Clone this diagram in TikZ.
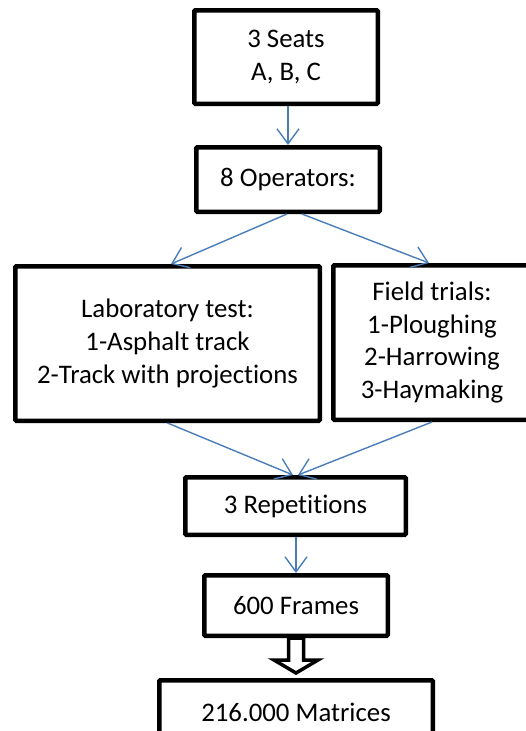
\documentclass[tikz,border=0pt]{standalone}
\usepackage{fontspec}
\setmainfont{Carlito}[Ligatures=NoCommon]
\usetikzlibrary{arrows.meta,calc}
\definecolor{arrowblue}{HTML}{4A7EBB}
\begin{document}
\begin{tikzpicture}[x=1pt,y=-1pt,
  box/.style={draw=black,line width=4.5pt,rectangle,align=center,inner sep=0pt,
    font=\fontsize{26.8}{32.8}\selectfont,rounded corners=1pt},
  arr/.style={draw=arrowblue,line width=1.4pt,-{Straight Barb[length=15pt,width=22pt]}},
  hollow/.style={draw=black,line width=3.5pt,fill=white,line join=miter}]
\useasboundingbox (0,0) rectangle (526,731);
\clip (0,0) rectangle (526,731);
\node[box,minimum width=183.5pt,minimum height=93.5pt] (seats) at (286,57) {3 Seats\\A, B, C};
\node[box,minimum width=183.5pt,minimum height=64.5pt] (ops) at (288,179.5) {8 Operators:};
\node[box,minimum width=304.5pt,minimum height=154.5pt] (lab) at (167.5,343.5) {Laboratory test:\\1-Asphalt track\\2-Track with projections};
\node[box,minimum width=197.5pt,minimum height=154.5pt] (field) at (432,342.5) {Field trials:\\1-Ploughing\\2-Harrowing\\3-Haymaking};
\node[box,minimum width=220.5pt,minimum height=57.5pt] (reps) at (295.5,506) {3 Repetitions};
\node[box,minimum width=183.5pt,minimum height=60.5pt] (frames) at (296,605.5) {600 Frames};
\node[box,minimum width=273.5pt,minimum height=63.5pt] (mat) at (296,712) {216.000 Matrices};
\draw[arr] (seats.south -| ops.north) -- (ops.north);
\draw[arr] ([xshift=-1pt]ops.south) -- ([xshift=3.5pt]lab.north);
\draw[arr] ([xshift=14pt]ops.south) -- ([xshift=-3pt]field.north);
\draw[arr] (lab.south) -- ([xshift=-2.5pt]reps.north);
\draw[arr] (field.south) -- ([xshift=2.5pt]reps.north);
\draw[arr] (reps.south -| frames.north) -- (frames.north);
\draw[hollow] ($(frames.south)+(-7.5,0)$) -- ($(frames.south)+(-7.5,22)$) -- ($(frames.south)+(-22,22)$)
  -- ($(mat.north)+(0,-5)$) -- ($(frames.south)+(22,22)$) -- ($(frames.south)+(7.5,22)$)
  -- ($(frames.south)+(7.5,0)$) -- cycle;
\end{tikzpicture}
\end{document}
